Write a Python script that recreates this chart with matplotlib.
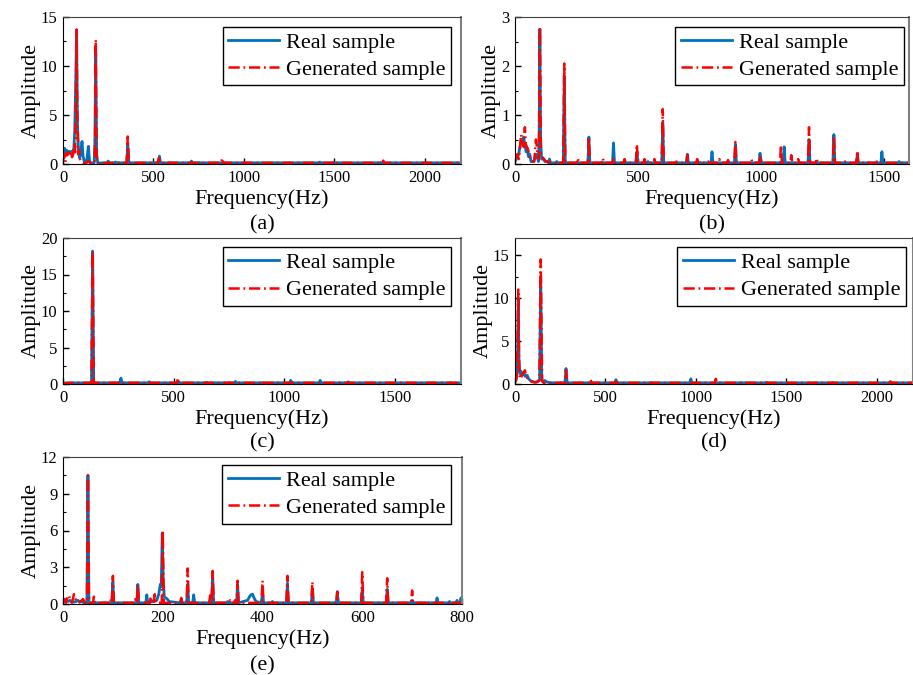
import numpy as np
import matplotlib.pyplot as plt
from matplotlib.ticker import MultipleLocator, AutoMinorLocator

plt.rcParams['font.family'] = ['Liberation Serif', 'DejaVu Serif']

BLUE = '#0072BD'
RED = '#FF0000'
GEN_DASH = (0, (4.5, 1.5, 0.7, 1.5))

# ---- (a) ----
a_real_pts_f = [0, 4, 9, 14, 20, 27, 33, 40, 47, 54, 60, 65, 70, 75, 80, 86, 92, 98, 105,
                111, 118, 125, 132, 140, 147, 155, 165, 172, 176, 181, 186, 192]
a_real_pts_amp = [1.0, 1.3, 1.6, 1.2, 1.4, 1.2, 1.3, 1.1, 1.3, 1.2, 1.6, 3.5, 8.0, 13.7, 4.0,
                  1.2, 0.6, 1.0, 2.3, 0.8, 0.2, 0.0, 0.5, 1.8, 0.3, 0.1, 0.1, 0.1, 2.0, 11.3, 1.0, 0.1]
a_real_peak_f = [250, 290, 358, 533, 710, 880, 1070, 1245, 1420, 1600, 1780, 1950, 2130]
a_real_peak_amp = [0.3, 0.2, 2.0, 0.8, 0.3, 0.1, 0.1, 0.1, 0.2, 0.05, 0.1, 0.1, 0.1]

a_gen_pts_f = [0, 4, 8, 13, 18, 24, 30, 37, 44, 50, 56, 62, 67, 71, 75, 79, 84, 89, 94, 100,
               108, 118, 128, 140, 150, 165, 174, 178, 181, 185, 190]
a_gen_pts_amp = [0.3, 1.0, 0.6, 0.2, 1.1, 0.9, 1.2, 0.8, 1.3, 0.7, 1.0, 1.9, 1.2, 6.0, 13.7,
                 5.0, 1.0, 1.4, 0.5, 0.3, 0.1, 0.0, 0.1, 0.3, 0.1, 0.1, 0.1, 3.0, 12.7, 1.0, 0.1]
a_gen_peak_f = [358, 530, 575, 700, 880, 1080, 1500, 1770, 2000]
a_gen_peak_amp = [2.8, 0.6, 0.25, 0.1, 0.6, 0.15, 0.3, 0.35, 0.1]

# ---- (b) ----
b_real_pts_f = [0, 5, 10, 15, 20, 25, 30, 35, 40, 45, 50, 55, 60, 65, 70, 75, 80, 85, 90, 95,
                98, 101, 104, 108, 115, 122, 130]
b_real_pts_amp = [0.05, 0.1, 0.15, 0.2, 0.35, 0.5, 0.45, 0.55, 0.4, 0.25, 0.3, 0.15, 0.2, 0.05,
                  0.05, 0.05, 0.1, 0.2, 0.15, 0.05, 0.5, 2.75, 0.5, 0.1, 0.1, 0.05, 0.05]
b_real_peak_f = [140, 170, 200, 300, 400, 495, 540, 600, 700, 800, 895, 995, 1093, 1194, 1295,
                 1390, 1490, 1560]
b_real_peak_amp = [0.1, 0.05, 1.8, 0.55, 0.43, 0.25, 0.05, 0.85, 0.2, 0.25, 0.4, 0.22, 0.35,
                   0.5, 0.6, 0.18, 0.25, 0.05]

b_gen_pts_f = [0, 5, 10, 15, 20, 25, 30, 35, 40, 44, 48, 53, 58, 63, 70, 78, 85, 88, 92, 97,
               101, 105, 110, 118, 125]
b_gen_pts_amp = [0.1, 0.15, 0.2, 0.1, 0.3, 0.6, 0.45, 0.35, 0.75, 0.4, 0.35, 0.3, 0.15, 0.1,
                 0.05, 0.05, 0.5, 0.4, 0.15, 0.1, 2.8, 0.2, 0.15, 0.1, 0.05]
b_gen_peak_f = [175, 200, 255, 300, 357, 400, 445, 495, 526, 566, 600, 655, 700, 740, 785, 830,
                865, 895, 960, 997, 1080, 1122, 1150, 1194, 1225, 1295, 1340, 1390, 1430, 1470]
b_gen_peak_amp = [0.05, 2.05, 0.12, 0.55, 0.12, 0.1, 0.1, 0.4, 0.1, 0.1, 1.12, 0.05, 0.18, 0.1,
                  0.05, 0.1, 0.08, 0.45, 0.1, 0.15, 0.38, 0.18, 0.1, 0.75, 0.12, 0.57, 0.05,
                  0.27, 0.05, 0.05]

# ---- (c) ----
c_real_pts_f = [0]
c_real_pts_amp = [0.1]
c_real_peak_f = [20, 40, 60, 80, 134, 262, 390, 520, 650, 780, 900, 1030, 1163, 1290, 1420,
                 1550, 1680]
c_real_peak_amp = [0.1, 0.15, 0.1, 0.1, 18.2, 0.8, 0.3, 0.2, 0.25, 0.35, 0.2, 0.5, 0.5, 0.3,
                   0.1, 0.1, 0.1]

c_gen_pts_f = [0]
c_gen_pts_amp = [0.05]
c_gen_peak_f = [30, 134, 175, 262, 520, 650, 900, 1030, 1160, 1290, 1676]
c_gen_peak_amp = [0.05, 18.2, 0.1, 0.3, 0.8, 0.1, 0.4, 0.2, 0.2, 0.1, 0.2]

# ---- (d) ----
d_real_pts_f = [0, 8, 14, 18, 22, 27, 33, 40, 48, 56, 62, 68, 75, 85, 95, 110, 125, 136, 142,
                148, 155, 165, 180]
d_real_pts_amp = [0.3, 0.8, 2.5, 10.0, 3.0, 1.2, 1.5, 1.1, 1.3, 0.9, 1.0, 1.0, 0.6, 0.4, 0.3,
                  0.2, 0.3, 0.5, 12.5, 0.5, 0.3, 0.4, 0.2]
d_real_peak_f = [210, 282, 418, 558, 700, 972, 1110, 1390, 1520, 1666, 1950, 2075]
d_real_peak_amp = [0.15, 1.8, 0.15, 0.5, 0.1, 0.6, 0.1, 0.2, 0.1, 0.15, 0.1, 0.1]

d_gen_pts_f = [0, 8, 13, 18, 23, 28, 35, 42, 50, 55, 60, 70, 80, 90, 105, 120, 135, 142, 150, 160]
d_gen_pts_amp = [0.2, 0.5, 3.0, 11.0, 1.5, 0.6, 0.8, 1.2, 1.4, 1.6, 1.0, 0.6, 0.4, 0.3, 0.2,
                 0.2, 0.4, 14.5, 0.3, 0.1]
d_gen_peak_f = [215, 282, 418, 558, 700, 830, 972, 1110, 1300, 1500, 1560, 1670, 1950, 2075, 2150]
d_gen_peak_amp = [0.2, 1.6, 0.5, 0.3, 0.15, 0.1, 0.15, 0.6, 0.15, 0.15, 0.1, 0.15, 0.1, 0.3, 0.1]

# ---- (e) ----
e_real_pts_f = [0, 3, 6, 10, 14, 18, 22, 26, 30, 34, 38, 42, 46, 188, 192, 195, 197, 199, 201,
                203, 206, 209, 213, 370, 374, 377, 380, 383, 387]
e_real_pts_amp = [0.1, 0.3, 0.4, 0.2, 0.3, 0.2, 0.15, 0.2, 0.3, 0.15, 0.2, 0.1, 0.1, 0.3, 0.8,
                  1.6, 1.4, 5.8, 2.0, 0.6, 0.5, 0.4, 0.2, 0.3, 0.6, 0.75, 0.8, 0.5, 0.2]
e_real_peak_f = [50, 100, 150, 168, 237, 250, 262, 300, 330, 350, 400, 420, 450, 500, 550, 600,
                 650, 700, 750, 775, 790, 798]
e_real_peak_amp = [10.5, 1.8, 1.6, 0.75, 0.3, 1.6, 0.75, 2.4, 0.2, 1.6, 1.0, 0.2, 1.7, 1.2, 1.0,
                   1.2, 1.2, 0.3, 0.5, 0.2, 0.3, 0.5]

e_gen_pts_f = [0, 3, 6, 9, 12, 15, 18, 22, 26, 30, 35, 40, 45]
e_gen_pts_amp = [0.5, 0.3, 0.1, 0.6, 0.7, 0.2, 0.1, 0.8, 0.3, 0.1, 0.2, 0.4, 0.1]
e_gen_peak_f = [50, 62, 95, 100, 145, 150, 176, 184, 200, 237, 250, 295, 300, 335, 345, 350, 400,
                450, 500, 550, 600, 650, 700, 730, 780]
e_gen_peak_amp = [10.5, 0.6, 0.4, 2.3, 0.4, 1.6, 0.6, 0.8, 6.0, 0.5, 2.9, 0.7, 2.7, 0.3, 0.3,
                  1.9, 1.9, 2.3, 1.8, 1.0, 2.6, 2.1, 1.1, 0.3, 0.2]


# turn listed points + narrow peaks into one spectrum polyline
def build_line(pts_f, pts_amp, peak_f, peak_amp, half_width, f_end, floor):
    xs = list(pts_f)
    ys = list(pts_amp)
    for f, a in zip(peak_f, peak_amp):
        xs += [f - half_width, f, f + half_width]
        ys += [floor, a, floor]
    xs.append(f_end)
    ys.append(floor)
    order = np.argsort(xs, kind='stable')
    return np.array(xs)[order], np.array(ys)[order]


def spectrum_panel(rect, real, gen, xmax, ymax, xstep, ystep, half_width,
                   caption, caption_y, legend_anchor):
    ax = fig.add_axes(rect)
    floor = 0.008 * ymax

    rx, ry = build_line(*real, half_width, xmax, floor)
    gx, gy = build_line(*gen, half_width, xmax, floor)
    ax.plot(rx, ry, color=BLUE, lw=2.0, label='Real sample')
    ax.plot(gx, gy, color=RED, lw=1.8, linestyle=GEN_DASH, label='Generated sample')

    ax.set_xlim(0, xmax)
    ax.set_ylim(0, ymax)
    ax.xaxis.set_major_locator(MultipleLocator(xstep))
    ax.yaxis.set_major_locator(MultipleLocator(ystep))
    ax.xaxis.set_minor_locator(AutoMinorLocator(2))
    ax.yaxis.set_minor_locator(AutoMinorLocator(2))
    ax.tick_params(which='both', direction='in', top=False, right=False, labelsize=12, pad=4)
    ax.tick_params(which='major', length=4, width=1)
    ax.tick_params(which='minor', length=2, width=0.8)

    ax.spines['top'].set_color('#404040')
    ax.spines['right'].set_color('#808080')
    ax.spines['right'].set_linewidth(1.5)

    ax.set_xlabel('Frequency(Hz)', fontsize=16, labelpad=3)
    ax.set_ylabel('Amplitude', fontsize=16, labelpad=0)
    ax.text(0.5, caption_y, caption, transform=ax.transAxes, ha='center', va='center',
            fontsize=16)

    leg = ax.legend(loc='upper right', bbox_to_anchor=legend_anchor, borderaxespad=0,
                    fontsize=16, fancybox=False, edgecolor='black', framealpha=1,
                    handlelength=2.3, handletextpad=0.3, labelspacing=0.3, borderpad=0.25)
    leg.get_frame().set_linewidth(1.0)
    return ax


W, H = 913, 675
fig = plt.figure(figsize=(W / 100, H / 100), dpi=100)


def px_rect(left, top, right, bottom):
    return [left / W, 1 - bottom / H, (right - left) / W, (bottom - top) / H]


spectrum_panel(px_rect(63, 17, 461, 164),
               (a_real_pts_f, a_real_pts_amp, a_real_peak_f, a_real_peak_amp),
               (a_gen_pts_f, a_gen_pts_amp, a_gen_peak_f, a_gen_peak_amp),
               2200, 15, 500, 5, 6, '(a)', -0.415, (0.975, 0.935))
spectrum_panel(px_rect(515, 17, 909, 164),
               (b_real_pts_f, b_real_pts_amp, b_real_peak_f, b_real_peak_amp),
               (b_gen_pts_f, b_gen_pts_amp, b_gen_peak_f, b_gen_peak_amp),
               1600, 3, 500, 1, 4, '(b)', -0.415, (0.987, 0.935))
spectrum_panel(px_rect(63, 238, 461, 384),
               (c_real_pts_f, c_real_pts_amp, c_real_peak_f, c_real_peak_amp),
               (c_gen_pts_f, c_gen_pts_amp, c_gen_peak_f, c_gen_peak_amp),
               1800, 20, 500, 5, 5, '(c)', -0.40, (0.975, 0.938))
spectrum_panel(px_rect(515, 238, 913, 384),
               (d_real_pts_f, d_real_pts_amp, d_real_peak_f, d_real_peak_amp),
               (d_gen_pts_f, d_gen_pts_amp, d_gen_peak_f, d_gen_peak_amp),
               2200, 17, 500, 5, 6, '(d)', -0.40, (0.982, 0.938))
spectrum_panel(px_rect(63, 457, 462, 604),
               (e_real_pts_f, e_real_pts_amp, e_real_peak_f, e_real_peak_amp),
               (e_gen_pts_f, e_gen_pts_amp, e_gen_peak_f, e_gen_peak_amp),
               800, 12, 200, 3, 2, '(e)', -0.42, (0.972, 0.946))

fig.savefig('out.png', dpi=100)
